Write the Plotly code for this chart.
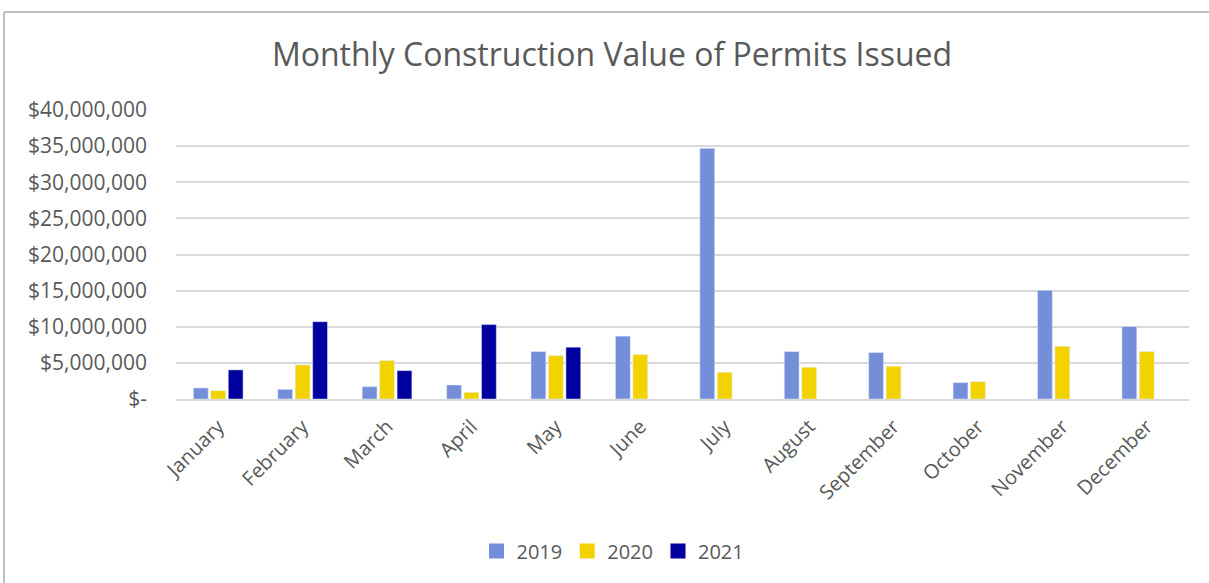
import plotly.graph_objects as go

months = ["January", "February", "March", "April", "May", "June",
          "July", "August", "September", "October", "November", "December"]
v2019 = [1.53e6, 1.33e6, 1.71e6, 1.94e6, 6.57e6, 8.7e6,
         34.7e6, 6.57e6, 6.43e6, 2.26e6, 15.04e6, 10.04e6]
v2020 = [1.15e6, 4.72e6, 5.32e6, 0.92e6, 6.0e6, 6.15e6,
         3.7e6, 4.39e6, 4.53e6, 2.4e6, 7.3e6, 6.57e6]
v2021 = [4.03e6, 10.7e6, 3.93e6, 10.3e6, 7.17e6, None,
         None, None, None, None, None, None]
series_names = ["2019", "2020", "2021"]
tick_vals = [0, 5e6, 10e6, 15e6, 20e6, 25e6, 30e6, 35e6, 40e6]
tick_text = ["$-", "$5,000,000", "$10,000,000", "$15,000,000", "$20,000,000",
             "$25,000,000", "$30,000,000", "$35,000,000", "$40,000,000"]

FONT = "Open Sans"
GRAY = "#595959"
COLORS = ["#748EDA", "#F2D300", "#00009E"]

W, H = 1209, 583
L, R, T, B = 176, 20, 110, 184
PW, PH = W - L - R, H - T - B

fig = go.Figure()
for name, vals, col in zip(series_names, [v2019, v2020, v2021], COLORS):
    fig.add_trace(go.Bar(name=name, x=months, y=vals, marker=dict(color=col),
                         showlegend=False))
# legend entries with square swatches
for name, col in zip(series_names, COLORS):
    fig.add_trace(go.Scatter(name=name, x=[None], y=[None], mode="markers",
                             marker=dict(symbol="square", size=15, color=col),
                             showlegend=True))

fig.update_layout(
    width=W, height=H,
    margin=dict(l=L, r=R, t=T, b=B),
    paper_bgcolor="white", plot_bgcolor="white",
    barmode="group", bargap=0.38, bargroupgap=0.15,
    title=dict(text="Monthly Construction Value of Permits Issued",
               x=612 / W, xanchor="center",
               y=1 - 55 / H, yanchor="middle",
               font=dict(family=FONT, size=32, color=GRAY)),
    font=dict(family=FONT, color=GRAY),
    legend=dict(orientation="h", x=(613 - L) / PW, xanchor="center",
                y=(399 - 551) / PH, yanchor="middle",
                font=dict(family=FONT, size=20, color=GRAY),
                itemwidth=30, tracegroupgap=0),
    showlegend=True,
)
fig.update_yaxes(range=[0, 40e6], tickvals=tick_vals, ticktext=tick_text,
                 showgrid=True, gridcolor="#D9D9D9", gridwidth=2,
                 zeroline=False, showline=False,
                 tickfont=dict(family=FONT, size=21, color=GRAY),
                 ticklabelstandoff=28, fixedrange=True)
fig.update_xaxes(tickangle=-45, showline=True, linecolor="#D9D9D9", linewidth=2,
                 tickfont=dict(family=FONT, size=20, color=GRAY),
                 ticklabelstandoff=6,
                 ticks="", fixedrange=True)

# chart outer border (partially cropped in reference)
fig.add_shape(type="line", xref="paper", yref="paper",
              x0=(4 - L) / PW, x1=(1220 - L) / PW,
              y0=(399 - 12) / PH, y1=(399 - 12) / PH,
              line=dict(color="#BFBFBF", width=2))
fig.add_shape(type="line", xref="paper", yref="paper",
              x0=(4 - L) / PW, x1=(4 - L) / PW,
              y0=(399 - 12) / PH, y1=(399 - 600) / PH,
              line=dict(color="#BFBFBF", width=2))

fig.write_html("out.html", config={"displayModeBar": False},
               post_script="document.body.style.margin='0px';document.body.style.overflow='hidden';")
